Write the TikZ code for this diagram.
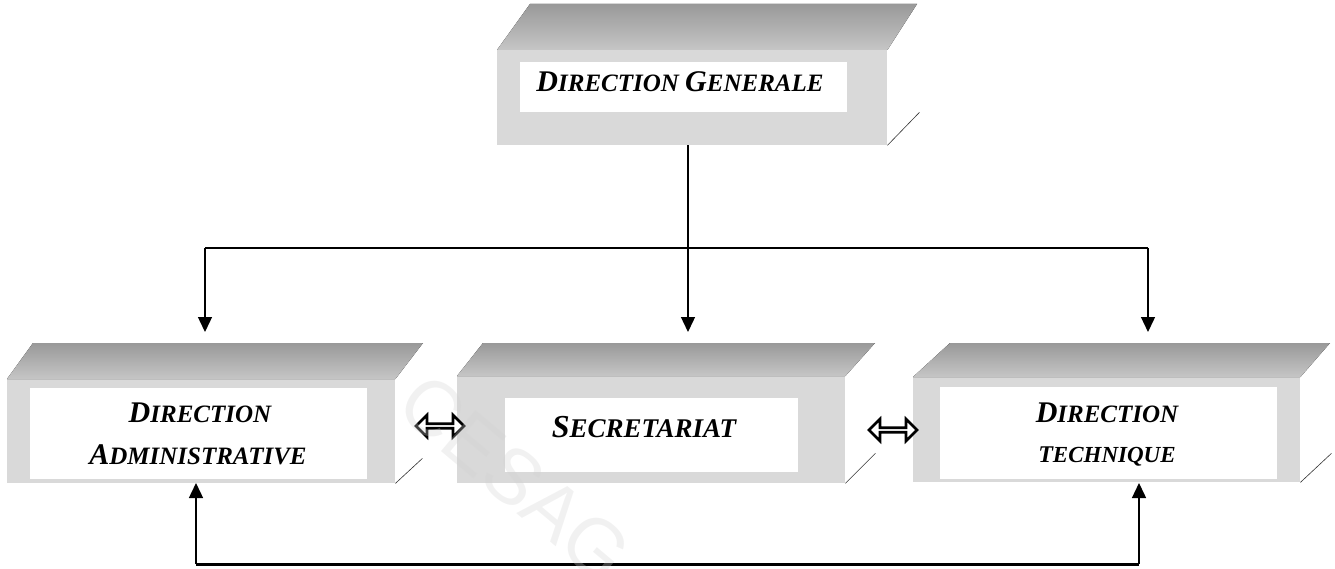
\documentclass[tikz,border=0pt]{standalone}
\usepackage{fontspec}
\setmainfont{Liberation Serif}
\newfontfamily\wmfont{Liberation Sans}
\usetikzlibrary{arrows.meta,shapes.arrows,calc}
\newcommand\fsc[4][30]{{\fontsize{#1}{32}\selectfont #3}{\fontsize{#2}{28}\selectfont #4}}
\begin{document}
\begin{tikzpicture}[x=1pt,y=-1pt,
  frontface/.style={fill=gray!30, draw=none, anchor=north west, inner sep=0pt},
  topface/.style={top color=gray!80, bottom color=gray!45, draw=none},
  innerwhite/.style={fill=white, draw=none},
  label/.style={font=\bfseries\itshape\fontsize{25}{28}\selectfont, align=center, inner sep=0pt},
  edgeline/.style={line width=0.6pt, draw=black!80},
  conn/.style={line width=1.4pt, draw=black},
  arr/.style={conn, -{Triangle[length=15pt,width=14pt]}},
  boldline/.style={line width=3pt, draw=black},
  dbl/.style={double arrow, draw=black, fill=white, line width=2.6pt, inner sep=0pt,
    minimum height=48pt, minimum width=22pt, double arrow head extend=5pt}
]
\useasboundingbox (0,0) rectangle (1335,569);

% ---------- DIRECTION GENERALE ----------
\node[frontface, minimum width=390pt, minimum height=95pt] (dgf) at (497,50) {};
\fill[topface] (dgf.north west) -- (530,4) -- (917,4) -- (dgf.north east) -- cycle;
\fill[innerwhite] (520,62) rectangle (847,112);
\draw[edgeline] (dgf.south east) -- ++(32,-33);
\node[label] (dg) at (680,82) {\fsc{25}{D}{IRECTION} \fsc{25}{G}{ENERALE}};

% ---------- DIRECTION ADMINISTRATIVE ----------
\node[frontface, minimum width=388pt, minimum height=104pt] (daf) at (7,379) {};
\fill[topface] (daf.north west) -- (33,343) -- (423,343) -- (daf.north east) -- cycle;
\fill[innerwhite] (30,388) rectangle (367,479);
\draw[edgeline] (daf.south east) -- ++(27,-25);
\node[label] (da1) at (200,413) {\fsc{25}{D}{IRECTION}};
\node[label] (da2) at (198,455) {\fsc{25}{A}{DMINISTRATIVE}};

% ---------- SECRETARIAT ----------
\node[frontface, minimum width=388pt, minimum height=107pt] (secf) at (457,376) {};
\fill[topface] (secf.north west) -- (483,343) -- (875,343) -- (secf.north east) -- cycle;
\fill[innerwhite] (505,398) rectangle (798,472);
\draw[edgeline] (secf.south east) -- ++(30,-30);
\node[label] (sec) at (644,427) {\fsc[32]{27}{S}{ECRETARIAT}};

% ---------- DIRECTION TECHNIQUE ----------
\node[frontface, minimum width=387pt, minimum height=105pt] (dtf) at (913,377) {};
\fill[topface] (dtf.north west) -- (950,343) -- (1330,343) -- (dtf.north east) -- cycle;
\fill[innerwhite] (940,387) rectangle (1277,479);
\draw[edgeline] (dtf.south east) -- ++(31,-29);
\node[label] (dt1) at (1107,413) {\fsc{25}{D}{IRECTION}};
\node[label] (dt2) at (1107,457) {\fsc[24]{23}{T}{ECHNIQUE}};

% ---------- connectors ----------
\coordinate (split) at (688,248);
\coordinate (datip) at (205,332);
\coordinate (sectip) at (688,332);
\coordinate (dttip) at (1148,332);
\draw[conn] (dgf.south -| split) -- (split);
\draw[line width=2pt] (datip |- split) -- (dttip |- split);
\draw[arr] (datip |- split) -- (datip);
\draw[arr] (split) -- (sectip);
\draw[arr] (dttip |- split) -- (dttip);

\coordinate (dabot) at (196,483);
\coordinate (dtbot) at (1139,483);
\coordinate (bl) at (196,564);
\coordinate (br) at (1139,564);
\draw[boldline] (bl) -- (br);
\draw[arr] (bl) -- (dabot);
\draw[arr] (br) -- (dtbot);

\node[dbl] (d1) at (440,426) {};
\node[dbl] (d2) at (893,430) {};

% ---------- watermark ----------
\node[rotate=-40, text=gray!35, opacity=0.3, font=\wmfont\fontsize{78}{80}\selectfont] (wm) at (515,478) {CESAG};
\end{tikzpicture}
\end{document}
